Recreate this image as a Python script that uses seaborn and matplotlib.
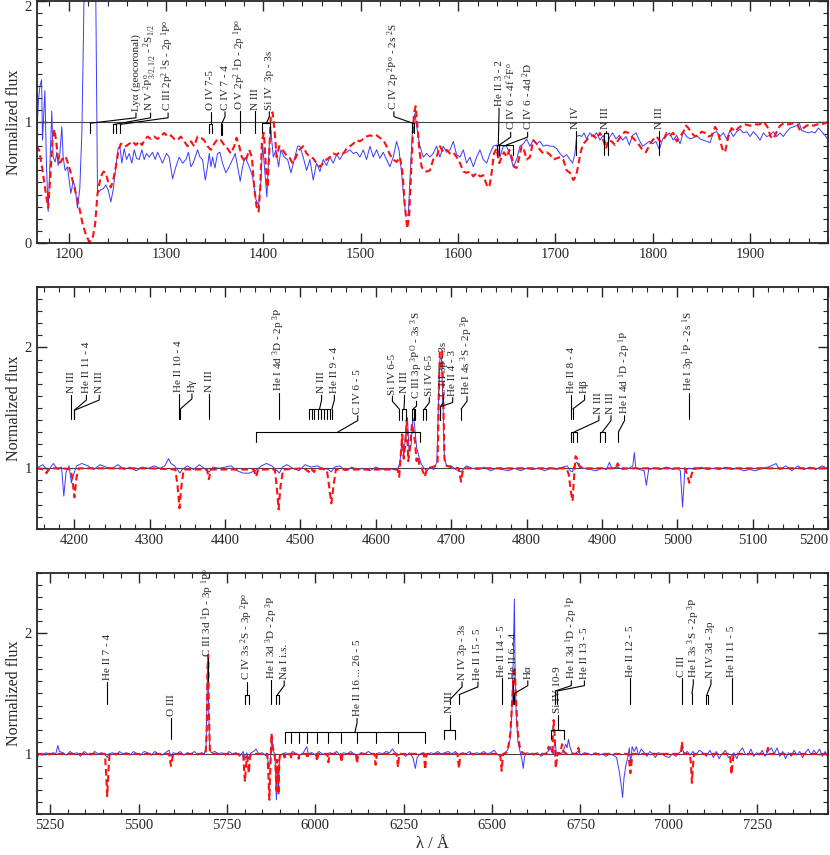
import numpy as np
import pandas as pd
import matplotlib
matplotlib.use("Agg")
import matplotlib.pyplot as plt
import seaborn as sns
from matplotlib.ticker import MultipleLocator

# ---------------- data: UV panel (wavelength, normalized flux) ----------------
uv_obs = [
    (1166.1, 0.71), (1168.8, 1.18), (1170.2, 1.29), (1172.0, 1.35), (1173.0, 0.85), (1175.4, 1.26),
    (1177.1, 0.63), (1178.8, 0.26), (1180.8, 0.69), (1182.5, 1.09), (1183.9, 0.71), (1186.0, 0.67),
    (1187.7, 0.75), (1189.1, 0.64), (1190.8, 0.74), (1192.8, 0.96), (1194.2, 0.71), (1196.2, 0.60),
    (1198.6, 0.63), (1202.1, 0.41), (1204.5, 0.51), (1206.5, 0.46), (1208.9, 0.29), (1211.3, 0.45),
    (1213.4, 0.91), (1215.1, 1.73), (1216.5, 2.60), (1227.1, 2.60), (1229.5, 0.41), (1232.9, 0.44),
    (1235.6, 0.45), (1238.0, 0.48), (1240.4, 0.44), (1243.2, 0.34), (1245.6, 0.44), (1248.3, 0.63),
    (1250.7, 0.78), (1252.4, 0.80), (1254.5, 0.66), (1256.9, 0.78), (1259.3, 0.69), (1262.0, 0.74),
    (1264.8, 0.66), (1267.2, 0.77), (1269.6, 0.70), (1272.3, 0.69), (1275.1, 0.77), (1277.5, 0.69),
    (1279.8, 0.74), (1282.6, 0.71), (1286.0, 0.75), (1288.8, 0.69), (1291.2, 0.75), (1293.5, 0.71),
    (1296.3, 0.66), (1300.4, 0.74), (1303.1, 0.71), (1306.6, 0.53), (1310.0, 0.63), (1313.4, 0.71),
    (1316.9, 0.66), (1320.3, 0.69), (1323.0, 0.75), (1325.4, 0.63), (1327.8, 0.66), (1329.9, 0.71),
    (1332.3, 0.77), (1334.7, 0.71), (1337.4, 0.69), (1340.2, 0.52), (1342.5, 0.63), (1344.3, 0.74),
    (1346.0, 0.63), (1347.7, 0.71), (1350.1, 0.62), (1352.8, 0.74), (1355.2, 0.75), (1357.9, 0.66),
    (1361.4, 0.58), (1364.8, 0.63), (1368.2, 0.69), (1371.0, 0.74), (1373.4, 0.63), (1376.1, 0.51),
    (1378.5, 0.63), (1381.2, 0.71), (1385.4, 0.63), (1388.8, 0.55), (1392.2, 0.36), (1395.0, 0.31),
    (1397.4, 0.52), (1399.1, 0.82), (1401.5, 0.58), (1403.5, 0.38), (1405.9, 0.80), (1407.6, 0.93),
    (1410.1, 0.71), (1412.8, 0.77), (1415.5, 0.63), (1417.9, 0.77), (1421.3, 0.71), (1424.8, 0.69),
    (1428.2, 0.58), (1431.6, 0.69), (1435.1, 0.80), (1437.4, 0.80), (1440.8, 0.71), (1444.3, 0.60),
    (1447.7, 0.69), (1451.1, 0.52), (1454.5, 0.66), (1458.0, 0.59), (1461.4, 0.69), (1464.8, 0.64),
    (1468.2, 0.71), (1471.7, 0.66), (1475.1, 0.73), (1478.5, 0.69), (1482.0, 0.74), (1485.4, 0.75),
    (1488.8, 0.77), (1492.2, 0.74), (1495.7, 0.75), (1499.1, 0.71), (1502.5, 0.77), (1505.9, 0.69),
    (1509.4, 0.80), (1512.8, 0.71), (1516.2, 0.77), (1519.6, 0.70), (1523.0, 0.75), (1526.5, 0.69),
    (1529.9, 0.63), (1533.3, 0.71), (1536.8, 0.84), (1539.2, 0.77), (1541.9, 0.58), (1544.3, 0.36),
    (1546.4, 0.22), (1548.8, 0.24), (1551.2, 0.63), (1553.2, 0.96), (1555.6, 1.07), (1558.0, 0.93),
    (1560.7, 0.80), (1564.2, 0.71), (1567.6, 0.74), (1571.0, 0.71), (1574.4, 0.74), (1577.9, 0.80),
    (1581.3, 0.71), (1584.7, 0.80), (1588.1, 0.75), (1591.6, 0.77), (1595.0, 0.84), (1598.4, 0.73),
    (1601.9, 0.71), (1605.3, 0.77), (1608.7, 0.66), (1612.1, 0.71), (1615.6, 0.63), (1619.0, 0.71),
    (1622.4, 0.77), (1625.8, 0.69), (1629.3, 0.66), (1632.7, 0.74), (1636.1, 0.80), (1639.5, 0.81),
    (1643.0, 0.71), (1646.4, 0.80), (1649.8, 0.80), (1653.2, 0.73), (1656.7, 0.63), (1660.1, 0.69),
    (1663.5, 0.80), (1667.0, 0.82), (1670.4, 0.86), (1673.8, 0.80), (1677.2, 0.85), (1680.7, 0.82),
    (1684.1, 0.84), (1687.5, 0.80), (1690.9, 0.81), (1694.4, 0.80), (1697.8, 0.80), (1701.2, 0.78),
    (1704.6, 0.74), (1708.0, 0.71), (1711.5, 0.73), (1714.9, 0.69), (1717.6, 0.66), (1720.0, 0.74),
    (1721.7, 0.88), (1724.5, 0.89), (1726.9, 0.88), (1729.3, 0.91), (1732.0, 0.86), (1735.4, 0.91),
    (1738.9, 0.88), (1742.3, 0.91), (1745.7, 0.85), (1749.1, 0.89), (1752.6, 0.80), (1756.0, 0.88),
    (1758.7, 0.91), (1762.2, 0.86), (1765.6, 0.89), (1769.0, 0.85), (1772.4, 0.88), (1775.9, 0.81),
    (1779.3, 0.89), (1782.7, 0.91), (1786.1, 0.85), (1789.6, 0.80), (1793.0, 0.82), (1796.4, 0.84),
    (1799.8, 0.82), (1803.3, 0.84), (1806.7, 0.77), (1810.1, 0.86), (1813.5, 0.88), (1817.0, 0.91),
    (1821.1, 0.85), (1824.5, 0.89), (1828.0, 0.82), (1831.4, 0.92), (1834.8, 0.88), (1838.2, 0.86),
    (1841.6, 0.87), (1845.1, 0.89), (1848.5, 0.86), (1851.9, 0.85), (1855.3, 0.84), (1858.8, 0.83),
    (1862.2, 0.91), (1865.6, 0.92), (1869.0, 0.88), (1872.5, 0.91), (1875.9, 0.86), (1879.3, 0.93),
    (1882.8, 0.88), (1886.2, 0.92), (1889.6, 0.94), (1893.0, 0.91), (1896.5, 0.92), (1899.9, 0.88),
    (1903.3, 0.92), (1906.7, 0.89), (1910.2, 0.85), (1913.6, 0.91), (1917.0, 0.88), (1920.4, 0.89),
    (1923.9, 0.92), (1927.3, 0.88), (1930.7, 0.91), (1934.1, 0.88), (1937.6, 0.92), (1941.0, 0.95),
    (1944.4, 0.96), (1947.9, 0.97), (1950.6, 0.99), (1953.0, 0.93), (1956.4, 0.92), (1959.8, 0.91),
    (1963.3, 0.92), (1966.7, 0.91), (1970.1, 0.95), (1973.5, 0.92), (1976.9, 0.89), (1980.4, 0.85),
]

uv_model = [
    (1166.1, 0.80), (1169.5, 0.77), (1173.0, 0.60), (1176.4, 0.41), (1178.8, 0.29), (1180.8, 0.52),
    (1183.2, 0.85), (1185.3, 0.94), (1187.3, 0.82), (1189.4, 0.66), (1191.8, 0.67), (1194.2, 0.71),
    (1196.9, 0.71), (1200.4, 0.63), (1203.8, 0.52), (1207.2, 0.41), (1210.6, 0.30), (1214.1, 0.16),
    (1217.5, 0.07), (1220.9, 0.01), (1224.3, 0.03), (1227.1, 0.16), (1229.5, 0.41), (1232.9, 0.55),
    (1235.6, 0.59), (1238.0, 0.58), (1240.8, 0.49), (1243.2, 0.46), (1245.6, 0.52), (1248.3, 0.63),
    (1251.1, 0.77), (1253.5, 0.82), (1255.9, 0.82), (1258.6, 0.80), (1262.0, 0.82), (1265.5, 0.84),
    (1268.9, 0.81), (1272.3, 0.84), (1275.1, 0.81), (1277.8, 0.85), (1280.9, 0.88), (1284.3, 0.86),
    (1287.7, 0.88), (1291.2, 0.86), (1294.6, 0.88), (1298.0, 0.91), (1301.4, 0.88), (1304.9, 0.89),
    (1308.3, 0.86), (1311.7, 0.85), (1315.1, 0.88), (1318.6, 0.84), (1322.0, 0.80), (1325.4, 0.84),
    (1328.8, 0.80), (1332.3, 0.88), (1335.7, 0.87), (1339.1, 0.85), (1342.5, 0.80), (1346.0, 0.77),
    (1349.4, 0.82), (1352.8, 0.86), (1356.2, 0.85), (1359.7, 0.81), (1363.1, 0.78), (1366.5, 0.74),
    (1369.9, 0.80), (1372.3, 0.87), (1375.1, 0.80), (1377.8, 0.71), (1381.3, 0.67), (1385.4, 0.77),
    (1388.1, 0.71), (1390.5, 0.46), (1392.9, 0.30), (1395.0, 0.26), (1396.7, 0.46), (1398.4, 0.85),
    (1400.4, 0.91), (1402.5, 0.63), (1404.2, 0.46), (1405.9, 0.74), (1407.6, 1.07), (1409.4, 1.08),
    (1411.4, 0.93), (1413.5, 0.71), (1416.2, 0.80), (1419.6, 0.77), (1423.1, 0.73), (1426.5, 0.71),
    (1429.9, 0.66), (1433.3, 0.71), (1436.8, 0.77), (1440.8, 0.80), (1444.3, 0.74), (1447.7, 0.71),
    (1451.1, 0.70), (1454.5, 0.66), (1458.0, 0.63), (1461.4, 0.66), (1464.8, 0.69), (1468.2, 0.71),
    (1471.7, 0.74), (1475.1, 0.73), (1478.5, 0.75), (1482.0, 0.74), (1485.4, 0.78), (1488.8, 0.80),
    (1492.2, 0.82), (1495.7, 0.85), (1499.1, 0.84), (1502.5, 0.86), (1505.9, 0.88), (1509.4, 0.89),
    (1512.8, 0.88), (1516.2, 0.89), (1519.6, 0.87), (1523.0, 0.85), (1526.5, 0.80), (1529.9, 0.73),
    (1533.3, 0.69), (1536.8, 0.67), (1540.2, 0.71), (1542.9, 0.58), (1545.3, 0.30), (1547.7, 0.12),
    (1549.8, 0.24), (1552.2, 0.69), (1554.6, 1.07), (1556.3, 1.13), (1558.0, 0.99), (1560.1, 0.77),
    (1562.4, 0.63), (1564.8, 0.60), (1567.6, 0.59), (1571.0, 0.60), (1574.4, 0.69), (1577.9, 0.71),
    (1581.3, 0.80), (1584.7, 0.75), (1588.1, 0.77), (1591.6, 0.74), (1595.0, 0.75), (1598.4, 0.71),
    (1601.9, 0.66), (1605.3, 0.59), (1608.7, 0.58), (1612.1, 0.59), (1615.6, 0.55), (1619.0, 0.58),
    (1622.4, 0.55), (1625.8, 0.56), (1629.3, 0.48), (1632.0, 0.46), (1634.4, 0.58), (1636.8, 0.74),
    (1639.5, 0.78), (1642.3, 0.66), (1644.7, 0.71), (1647.1, 0.75), (1649.8, 0.71), (1652.6, 0.77),
    (1655.0, 0.71), (1657.4, 0.63), (1660.1, 0.62), (1662.8, 0.71), (1665.2, 0.80), (1667.6, 0.77),
    (1670.4, 0.69), (1673.8, 0.71), (1677.2, 0.85), (1680.7, 0.82), (1684.1, 0.77), (1687.5, 0.74),
    (1690.9, 0.75), (1694.4, 0.73), (1697.8, 0.69), (1701.2, 0.70), (1704.6, 0.71), (1708.0, 0.69),
    (1711.5, 0.60), (1714.9, 0.58), (1718.3, 0.52), (1721.0, 0.55), (1723.4, 0.64), (1725.8, 0.75),
    (1728.6, 0.82), (1732.0, 0.85), (1735.4, 0.88), (1738.9, 0.89), (1742.3, 0.86), (1745.7, 0.91),
    (1749.1, 0.85), (1751.9, 0.78), (1754.3, 0.85), (1757.7, 0.84), (1761.1, 0.81), (1764.6, 0.85),
    (1768.0, 0.89), (1771.4, 0.92), (1774.8, 0.91), (1778.3, 0.88), (1781.7, 0.85), (1785.1, 0.82),
    (1788.5, 0.78), (1793.0, 0.75), (1796.4, 0.81), (1799.8, 0.85), (1803.9, 0.88), (1807.4, 0.84),
    (1810.8, 0.85), (1814.2, 0.91), (1817.7, 0.89), (1821.1, 0.91), (1824.5, 0.84), (1828.0, 0.88),
    (1831.4, 0.92), (1834.1, 0.97), (1836.5, 0.95), (1839.9, 0.91), (1843.4, 0.88), (1846.8, 0.89),
    (1850.2, 0.92), (1853.6, 0.91), (1857.1, 0.88), (1860.5, 0.89), (1863.9, 0.96), (1866.3, 0.93),
    (1869.0, 0.85), (1871.4, 0.78), (1874.2, 0.75), (1877.6, 0.88), (1881.0, 0.95), (1884.5, 0.92),
    (1887.9, 0.95), (1891.3, 0.97), (1894.7, 0.98), (1899.9, 0.97), (1905.0, 0.98), (1909.5, 0.98),
    (1914.3, 1.00), (1917.7, 0.96), (1921.1, 0.88), (1923.9, 0.86), (1927.3, 0.92), (1930.7, 0.97),
    (1934.8, 0.99), (1939.3, 0.98), (1944.4, 0.99), (1948.5, 0.98), (1951.3, 0.93), (1954.7, 0.95),
    (1958.1, 0.97), (1961.6, 0.98), (1965.0, 0.97), (1969.1, 0.98), (1973.5, 0.98), (1977.0, 0.99),
    (1980.4, 1.00),
]

# ---------------- data: blue optical panel ----------------
blue_obs = [
    (4150, 1.00), (4158, 1.03), (4165, 0.98), (4172, 1.04), (4178, 0.99), (4183, 1.01), (4186, 0.77),
    (4189, 0.97), (4193, 1.02), (4196, 0.88), (4199, 0.95), (4203, 1.02), (4210, 1.04), (4218, 1.02),
    (4226, 0.99), (4234, 1.03), (4242, 1.01), (4250, 1.00), (4258, 1.03), (4266, 0.99), (4274, 1.01),
    (4282, 0.98), (4290, 1.01), (4298, 1.00), (4306, 1.02), (4314, 1.00), (4320, 1.02), (4325, 1.08),
    (4328, 1.04), (4333, 1.02), (4338, 0.98), (4340, 0.96), (4343, 0.99), (4350, 1.02), (4358, 0.99),
    (4366, 1.03), (4374, 0.99), (4379, 0.97), (4384, 1.01), (4392, 1.00), (4400, 1.01), (4408, 1.02),
    (4416, 0.98), (4424, 0.96), (4432, 0.96), (4440, 0.98), (4448, 1.02), (4455, 1.04), (4462, 1.02),
    (4469, 0.98), (4472, 0.96), (4476, 1.01), (4482, 1.03), (4490, 1.00), (4498, 0.98), (4506, 1.03),
    (4514, 1.01), (4522, 1.02), (4530, 1.00), (4537, 0.99), (4541, 0.97), (4545, 1.01), (4552, 1.02),
    (4560, 0.98), (4568, 1.01), (4576, 0.99), (4584, 1.00), (4592, 0.98), (4600, 1.01), (4608, 0.99),
    (4616, 1.00), (4624, 0.99), (4629, 0.99), (4632, 1.05), (4635, 1.25), (4637, 1.10), (4640, 1.30),
    (4642, 1.42), (4644, 1.15), (4647, 1.20), (4649, 1.42), (4651, 1.38), (4654, 1.18), (4657, 1.10),
    (4660, 1.04), (4664, 1.00), (4668, 0.98), (4672, 1.01), (4677, 0.99), (4681, 1.05), (4683, 1.50),
    (4685, 1.90), (4687, 1.92), (4689, 1.55), (4691, 1.08), (4694, 1.02), (4700, 1.02), (4706, 0.99),
    (4713, 0.97), (4720, 1.02), (4728, 1.00), (4736, 0.99), (4744, 1.01), (4752, 0.98), (4760, 1.00),
    (4768, 0.99), (4776, 0.98), (4784, 1.00), (4792, 0.98), (4800, 1.00), (4808, 0.99), (4816, 1.00),
    (4824, 0.98), (4832, 1.00), (4840, 0.99), (4848, 1.01), (4854, 1.02), (4858, 0.98), (4861, 0.97),
    (4864, 1.04), (4867, 1.05), (4870, 1.01), (4876, 1.00), (4884, 0.99), (4892, 0.98), (4900, 1.00),
    (4906, 0.99), (4910, 1.05), (4913, 1.00), (4920, 1.01), (4928, 0.99), (4936, 1.00), (4941, 1.02),
    (4943, 1.13), (4945, 1.00), (4950, 0.99), (4956, 0.98), (4959, 0.86), (4962, 0.99), (4970, 1.00),
    (4978, 0.99), (4986, 1.01), (4994, 0.99), (5000, 1.00), (5004, 0.98), (5007, 0.68), (5010, 0.98),
    (5016, 1.00), (5024, 0.99), (5032, 1.01), (5040, 0.99), (5048, 1.00), (5056, 0.99), (5064, 1.01),
    (5072, 0.99), (5080, 1.00), (5088, 0.98), (5096, 0.99), (5104, 0.98), (5112, 1.00), (5120, 1.01),
    (5128, 1.03), (5131, 1.04), (5136, 0.99), (5144, 1.02), (5152, 0.98), (5160, 1.02), (5168, 0.99),
    (5176, 1.01), (5184, 0.99), (5192, 1.02), (5200, 1.00),
]

blue_model = [
    (4150, 1.00), (4160, 0.99), (4163, 0.96), (4166, 0.99), (4172, 1.00), (4185, 1.00), (4195, 0.99),
    (4197, 0.93), (4200, 0.76), (4203, 0.93), (4206, 1.00), (4300, 1.00), (4334, 0.99), (4337, 0.85),
    (4339.5, 0.67), (4342, 0.85), (4345, 0.99), (4376, 0.99), (4378.5, 0.91), (4381, 0.99),
    (4438, 0.99), (4441, 0.93), (4444, 0.99), (4466, 0.99), (4468.5, 0.85), (4471, 0.66),
    (4473.5, 0.85), (4477, 0.99), (4505, 1.00), (4511, 0.97), (4514, 1.00), (4518, 0.97),
    (4521, 1.00), (4535, 0.99), (4538, 0.85), (4541, 0.71), (4544, 0.86), (4547, 0.99), (4629, 0.99),
    (4631, 0.93), (4633, 1.10), (4635, 1.28), (4637, 1.08), (4639, 1.20), (4641, 1.40), (4643, 1.06),
    (4645, 1.15), (4648, 1.37), (4650, 1.30), (4652, 1.22), (4654, 1.06), (4656, 1.10), (4658, 1.02),
    (4661, 1.00), (4665, 0.93), (4668, 1.00), (4675, 1.01), (4679, 1.02), (4682, 1.05),
    (4683.5, 1.60), (4685, 1.98), (4688, 1.97), (4689.5, 1.60), (4691, 1.08), (4694, 1.02),
    (4700, 1.01), (4710, 1.00), (4713, 0.89), (4716, 1.00), (4853, 1.00), (4856, 0.95), (4859, 0.80),
    (4861, 0.73), (4863, 0.92), (4865, 1.10), (4867, 1.08), (4870, 1.02), (4875, 1.00), (4918, 1.00),
    (4921, 1.04), (4924, 1.00), (5010, 1.00), (5013, 0.95), (5016, 0.88), (5019, 0.95), (5022, 1.00),
    (5200, 1.00),
]

# ---------------- data: red optical panel ----------------
red_obs = [
    (5212, 0.95), (5218, 1.00), (5228, 0.99), (5238, 1.01), (5248, 0.99), (5258, 1.01), (5266, 1.00),
    (5272, 1.07), (5276, 1.02), (5286, 1.01), (5296, 0.99), (5306, 1.02), (5316, 1.00), (5326, 1.01),
    (5336, 0.98), (5346, 1.02), (5356, 1.00), (5366, 0.99), (5376, 1.02), (5386, 1.00), (5396, 1.01),
    (5406, 0.99), (5411, 0.97), (5416, 1.00), (5426, 1.01), (5436, 0.99), (5446, 1.02), (5456, 1.00),
    (5466, 1.01), (5476, 0.99), (5486, 1.02), (5496, 1.00), (5506, 0.99), (5516, 1.02), (5526, 1.01),
    (5536, 0.99), (5546, 1.02), (5556, 1.00), (5566, 0.99), (5576, 1.01), (5586, 1.03), (5592, 0.98),
    (5598, 1.01), (5608, 1.00), (5618, 1.02), (5628, 0.99), (5638, 1.01), (5648, 1.00), (5658, 1.02),
    (5668, 0.99), (5678, 1.01), (5686, 1.00), (5691, 1.05), (5694, 1.50), (5696, 1.80), (5698, 1.45),
    (5701, 1.05), (5706, 1.01), (5716, 1.02), (5726, 1.00), (5736, 1.01), (5746, 0.99), (5756, 1.02),
    (5766, 1.00), (5776, 1.01), (5786, 0.98), (5796, 1.02), (5801, 0.95), (5806, 1.01), (5812, 0.96),
    (5818, 1.01), (5826, 1.02), (5832, 1.04), (5840, 1.00), (5850, 1.01), (5858, 0.99), (5864, 0.98),
    (5869, 0.88), (5873, 0.95), (5877, 1.15), (5881, 1.02), (5886, 1.00), (5890, 0.62), (5893, 0.90),
    (5896, 0.70), (5899, 0.98), (5906, 1.00), (5916, 1.01), (5926, 0.99), (5936, 1.02), (5946, 1.00),
    (5956, 0.99), (5966, 1.01), (5976, 1.06), (5980, 1.00), (5990, 1.01), (6000, 0.99), (6010, 1.02),
    (6020, 1.00), (6030, 0.99), (6040, 1.01), (6050, 1.00), (6060, 1.02), (6070, 0.99), (6080, 1.01),
    (6090, 1.00), (6100, 1.02), (6110, 1.00), (6120, 0.99), (6130, 1.01), (6140, 1.00), (6150, 1.02),
    (6160, 1.00), (6170, 0.99), (6180, 1.01), (6190, 1.00), (6200, 1.02), (6210, 1.01), (6218, 1.04),
    (6226, 1.01), (6236, 0.99), (6246, 1.00), (6256, 0.98), (6266, 1.01), (6276, 0.97), (6283, 0.88),
    (6288, 0.97), (6296, 1.00), (6306, 1.01), (6316, 0.99), (6326, 1.01), (6336, 1.00), (6346, 1.02),
    (6356, 1.00), (6366, 1.01), (6376, 1.02), (6386, 1.00), (6396, 1.02), (6406, 0.99), (6416, 1.01),
    (6426, 1.00), (6436, 1.02), (6446, 0.99), (6456, 1.01), (6466, 1.00), (6476, 1.02), (6486, 1.00),
    (6496, 1.01), (6506, 1.03), (6514, 1.00), (6522, 0.98), (6530, 0.99), (6538, 1.01), (6545, 1.04),
    (6551, 1.12), (6556, 1.35), (6560, 1.80), (6563, 2.28), (6565, 1.70), (6568, 1.35), (6573, 1.10),
    (6579, 1.02), (6584, 0.96), (6588, 0.88), (6592, 0.98), (6598, 1.01), (6608, 1.00), (6618, 0.99),
    (6628, 1.01), (6638, 0.98), (6648, 1.00), (6658, 1.02), (6664, 1.06), (6668, 1.02), (6673, 1.00),
    (6678, 1.12), (6681, 1.02), (6684, 0.98), (6690, 1.01), (6696, 1.00), (6702, 1.03), (6708, 1.08),
    (6712, 1.05), (6716, 1.12), (6720, 1.06), (6726, 1.01), (6734, 1.00), (6742, 1.02), (6752, 0.99),
    (6762, 1.01), (6772, 1.00), (6782, 0.99), (6792, 1.01), (6802, 0.99), (6812, 1.00), (6822, 0.98),
    (6832, 1.00), (6842, 0.99), (6852, 0.97), (6860, 0.85), (6866, 0.72), (6869, 0.64), (6873, 0.80),
    (6878, 0.90), (6883, 0.96), (6888, 1.05), (6892, 0.92), (6896, 1.06), (6902, 1.02), (6908, 1.06),
    (6914, 0.99), (6922, 1.04), (6930, 1.01), (6938, 0.98), (6946, 1.02), (6954, 1.00), (6962, 0.97),
    (6970, 1.01), (6980, 1.00), (6990, 0.98), (7000, 0.97), (7010, 1.00), (7020, 0.98), (7030, 1.01),
    (7038, 1.04), (7044, 1.00), (7052, 1.02), (7060, 0.99), (7068, 1.02), (7076, 0.99), (7086, 1.03),
    (7096, 1.01), (7106, 0.98), (7116, 1.03), (7126, 0.97), (7134, 1.02), (7142, 0.96), (7150, 1.00),
    (7160, 1.03), (7168, 0.97), (7176, 0.98), (7184, 1.01), (7192, 0.96), (7200, 1.02), (7208, 1.05),
    (7216, 1.00), (7224, 0.99), (7232, 1.04), (7240, 0.98), (7248, 1.01), (7256, 0.99), (7264, 1.03),
    (7272, 0.98), (7280, 1.02), (7290, 1.05), (7298, 1.00), (7306, 1.05), (7314, 0.98), (7322, 1.02),
    (7330, 0.96), (7338, 1.01), (7346, 0.98), (7354, 1.03), (7362, 0.99), (7370, 1.02), (7378, 0.97),
    (7386, 1.01), (7394, 1.04), (7402, 0.99), (7410, 1.03), (7418, 1.00), (7426, 1.04), (7434, 0.98),
    (7442, 1.02), (7450, 0.97),
]

red_model = [
    (5212, 1.00), (5405, 1.00), (5408, 0.85), (5411.5, 0.65), (5415, 0.86), (5418, 1.00),
    (5586, 1.00), (5589, 0.95), (5592, 0.90), (5595, 0.95), (5598, 1.00), (5690, 1.00),
    (5693, 1.20), (5695, 1.70), (5697, 1.82), (5699, 1.35), (5702, 1.02), (5706, 1.00),
    (5796, 1.00), (5799, 0.85), (5801, 0.77), (5804, 0.90), (5807, 0.98), (5810, 0.90),
    (5812, 0.84), (5815, 0.97), (5818, 1.00), (5864, 1.00), (5867, 0.85), (5870, 0.62),
    (5873, 0.90), (5876, 1.17), (5880, 1.05), (5884, 1.00), (5887, 0.95), (5890, 0.70),
    (5892, 0.95), (5894, 0.90), (5896, 0.66), (5898, 0.95), (5901, 1.00), (5911, 1.00),
    (5913, 0.97), (5915, 1.00), (5930, 1.00), (5932, 0.96), (5934, 1.00), (5951, 1.00),
    (5953, 0.96), (5955, 1.00), (5975, 1.00), (5977.5, 0.96), (5980, 1.00), (6002, 1.00),
    (6005, 0.94), (6008, 1.00), (6034, 1.00), (6037, 0.93), (6040, 1.00), (6071, 1.00),
    (6074, 0.93), (6077, 1.00), (6115, 1.00), (6118, 0.92), (6121, 1.00), (6167, 1.00),
    (6170.6, 0.91), (6174, 1.00), (6230, 1.00), (6233.8, 0.89), (6237, 1.00), (6307, 1.00),
    (6310.8, 0.87), (6314, 1.00), (6402, 1.00), (6406.4, 0.88), (6410, 1.00), (6523, 1.00),
    (6527, 0.86), (6531, 1.00), (6540, 1.01), (6546, 1.06), (6552, 1.18), (6557, 1.45),
    (6561, 1.68), (6564, 1.72), (6567, 1.48), (6572, 1.20), (6578, 1.06), (6585, 1.01),
    (6592, 1.00), (6655, 1.00), (6660, 1.06), (6664, 1.01), (6670, 1.02), (6674, 1.28),
    (6677, 1.15), (6680, 0.88), (6683, 0.95), (6686, 1.01), (6692, 1.00), (6698, 1.08),
    (6702, 1.02), (6710, 1.00), (6740, 1.00), (6744, 1.05), (6748, 1.00), (6886, 1.00),
    (6889, 0.90), (6891, 0.84), (6894, 0.92), (6897, 1.00), (7034, 1.00), (7037, 1.10),
    (7040, 1.02), (7044, 1.00), (7060, 1.00), (7063, 0.88), (7065, 0.76), (7068, 0.90),
    (7071, 1.00), (7173, 1.00), (7175, 0.90), (7177, 0.83), (7180, 0.92), (7183, 1.00),
    (7276, 1.00), (7280, 1.05), (7284, 1.00), (7450, 1.00),
]

# ---------------- line identifications: (wavelengths, label) ----------------
uv_ids = [
    ([1222.0], "Ly\u03b1 (geocoronal)"),
    ([1245.0, 1248.3], "N V $^{2}$P$^{o}_{3/2,1/2}$ - $^{2}$S$_{1/2}$"),
    ([1252.8], "C III 2p$^{2}$ $^{1}$S - 2p $^{1}$P$^{o}$"),
    ([1344.2, 1347.6], "O IV 7-5"),
    ([1356.2, 1357.3], "C IV 7 - 4"),
    ([1375.8], "O V 2p$^{2}$ $^{1}$D - 2p $^{1}$P$^{o}$"),
    ([1391.5], "N III"),
    ([1399.0, 1407.0], "Si IV  3p - 3s"),
    ([1552.2, 1554.6], "C IV 2p $^{2}$P$^{o}$ - 2s $^{2}$S"),
    ([1640.2, 1642.3], "He II 3 - 2"),
    ([1642.3], "C IV 6 - 4f $^{2}$F$^{o}$"),
    ([1642.3, 1656.7], "C IV 6 - 4d $^{2}$D"),
    ([1721.0], "N IV"),
    ([1750.2, 1753.6], "N III"),
    ([1806.7], "N III"),
]

blue_ids = [
    ([4195.8], "N III"),
    ([4199.8], "He II 11 - 4"),
    ([4200.1], "N III"),
    ([4338.7], "He II 10 - 4"),
    ([4340.5], "H\u03b3"),
    ([4379.1], "N III"),
    ([4471.5], "He I 4d $^{3}$D - 2p $^{3}$P"),
    ([4510.9, 4514.9, 4518.1, 4523.6, 4527.9, 4530.9, 4534.6, 4539.7], "N III"),
    ([4541.6], "He II 9 - 4"),
    ([4441.0, 4658.0], "C IV 6 - 5"),
    ([4631.2], "Si IV 6-5"),
    ([4634.1, 4640.6], "N III"),
    ([4647.4, 4650.2, 4651.5], "C III 3p $^{3}$P$^{O}$ - 3s $^{3}$S"),
    ([4663.0, 4666.0], "Si IV 6-5"),
    ([4685.7], "C III 3p - 3s"),
    ([4685.7], "He II 4 - 3"),
    ([4713.1], "He I 4s $^{3}$S - 2p $^{3}$P"),
    ([4859.3], "He II 8 - 4"),
    ([4861.3], "H\u03b2"),
    ([4858.9, 4861.6, 4867.1], "N III"),
    ([4897.0, 4904.0], "N III"),
    ([4921.9], "He I 4d $^{1}$D - 2p $^{1}$P"),
    ([5015.7], "He I 3p $^{1}$P - 2s $^{1}$S"),
]

red_ids = [
    ([5411.5], "He II 7 - 4"),
    ([5592.3], "O III"),
    ([5695.9], "C III 3d $^{1}$D - 3p $^{1}$P$^{o}$"),
    ([5801.3, 5812.0], "C IV 3s $^{2}$S - 3p $^{2}$P$^{o}$"),
    ([5875.6], "He I 3d $^{3}$D - 2p $^{3}$P"),
    ([5890.0, 5895.9], "Na I i.s."),
    ([5913.0, 5932.0, 5953.0, 5977.5, 6005.0, 6037.0, 6074.0, 6118.0, 6170.6, 6233.8, 6310.8],
     "He II 16 ... 26 - 5"),
    ([6365.0, 6395.0], "N III"),
    ([6380.8], "N IV 3p - 3s"),
    ([6406.4], "He II 15 - 5"),
    ([6527.1], "He II 14 - 5"),
    ([6560.1], "He II 6 - 4"),
    ([6562.8], "H\u03b1"),
    ([6667.0, 6703.0], "Si IV 10-9"),
    ([6678.2], "He I 3d $^{1}$D - 2p $^{1}$P"),
    ([6683.2], "He II 13 - 5"),
    ([6890.9], "He II 12 - 5"),
    ([7037.0], "C III"),
    ([7065.2], "He I 3s $^{3}$S - 2p $^{3}$P"),
    ([7105.0, 7110.0], "N IV 3d - 3p"),
    ([7177.2], "He II 11 - 5"),
]

# ---------------- label layout: (tick bottom, tick top, text x, text bottom) ----------------
uv_layout = [
    (0.91, 0.99, 1269.0, 1.09), (0.91, 0.98, 1284.0, 1.09), (0.91, 0.98, 1302.0, 1.09),
    (0.91, 0.98, 1346.0, 1.10), (0.89, 0.98, 1360.5, 1.10), (0.91, 1.09, 1375.8, 1.10),
    (0.91, 1.09, 1391.5, 1.10), (0.91, 0.99, 1406.0, 1.10), (0.91, 0.99, 1534.0, 1.10),
    (0.73, 0.81, 1642.0, 1.13), (0.73, 0.81, 1654.0, 0.93), (0.73, 0.81, 1671.4, 0.93),
    (0.73, 0.91, 1721.0, 0.94), (0.73, 0.91, 1751.9, 0.94), (0.73, 0.91, 1806.7, 0.94),
]

blue_layout = [
    (1.41, 1.58, 4195.8, 1.62), (1.41, 1.48, 4216.0, 1.62), (1.41, 1.48, 4233.0, 1.62),
    (1.41, 1.49, 4338.7, 1.63), (1.41, 1.49, 4356.0, 1.63), (1.41, 1.61, 4379.1, 1.63),
    (1.41, 1.61, 4471.5, 1.64), (1.41, 1.49, 4528.0, 1.62), (1.41, 1.49, 4545.0, 1.62),
    (1.22, 1.30, 4576.0, 1.45), (1.40, 1.49, 4622.0, 1.61), (1.40, 1.49, 4638.0, 1.62),
    (1.40, 1.49, 4654.0, 1.57), (1.40, 1.49, 4671.0, 1.60), (1.40, 1.51, 4689.5, 1.60),
    (1.40, 1.51, 4702.0, 1.60), (1.40, 1.49, 4721.0, 1.61), (1.41, 1.49, 4859.3, 1.62),
    (1.41, 1.49, 4877.0, 1.62), (1.22, 1.30, 4896.0, 1.45), (1.22, 1.30, 4912.0, 1.45),
    (1.22, 1.30, 4930.0, 1.45), (1.41, 1.60, 5015.7, 1.64),
]

red_layout = [
    (1.41, 1.56, 5411.5, 1.61), (1.12, 1.29, 5592.3, 1.31), (1.60, 1.79, 5695.9, 1.80),
    (1.41, 1.49, 5806.6, 1.61), (1.41, 1.61, 5875.6, 1.62), (1.41, 1.49, 5912.0, 1.62),
    (1.09, 1.18, 6118.0, 1.31), (1.12, 1.20, 6380.0, 1.34), (1.41, 1.45, 6415.0, 1.61),
    (1.41, 1.49, 6460.0, 1.61), (1.41, 1.63, 6527.1, 1.64), (1.41, 1.50, 6560.1, 1.62),
    (1.41, 1.50, 6601.0, 1.62), (1.12, 1.20, 6685.0, 1.34), (1.41, 1.52, 6724.0, 1.62),
    (1.41, 1.52, 6761.0, 1.62), (1.41, 1.63, 6890.9, 1.64), (1.41, 1.63, 7037.0, 1.64),
    (1.41, 1.50, 7069.0, 1.63), (1.41, 1.49, 7119.0, 1.63), (1.41, 1.63, 7177.2, 1.64),
]

sns.set_style("ticks")
plt.rcParams["font.family"] = ["Liberation Serif", "DejaVu Serif"]
plt.rcParams["mathtext.fontset"] = "custom"
plt.rcParams["mathtext.rm"] = "Liberation Serif"
plt.rcParams["mathtext.it"] = "Liberation Serif:italic"
plt.rcParams["mathtext.default"] = "regular"

OBS_COLOR = "#3a3aff"
MODEL_COLOR = "#ff1010"
LABEL_SIZE = 8


def draw_spectrum(ax, pts, color, lw, dashed=False):
    df = pd.DataFrame(pts, columns=["wave", "flux"])
    sns.lineplot(data=df, x="wave", y="flux", ax=ax, color=color, linewidth=lw,
                 estimator=None, sort=False, legend=False, zorder=2 if dashed else 1.5)
    if dashed:
        ax.lines[-1].set_dashes([3.2, 1.8])


def mark_lines(ax, ids, layout):
    for (waves, text), (y0, y1, tx, ty) in zip(ids, layout):
        for w in waves:
            ax.plot([w, w], [y0, y1], color="black", lw=0.8, zorder=4)
        lo, hi = min(waves), max(waves)
        if hi > lo:
            ax.plot([lo, hi], [y1, y1], color="black", lw=0.8, zorder=4)
        c = 0.5 * (lo + hi)
        if abs(tx - c) < 0.6:
            ax.plot([c, c], [y1, ty - 0.015], color="black", lw=0.8, zorder=4)
        else:
            ax.plot([c, tx, tx], [y1, ty - 0.055, ty - 0.015], color="black", lw=0.8, zorder=4)
        ax.text(tx, ty, text, rotation=90, ha="center", va="bottom",
                fontsize=LABEL_SIZE, zorder=5)


def style_axes(ax, xlim, ylim, xmaj, xmin):
    ax.set_xlim(*xlim)
    ax.set_ylim(*ylim)
    ax.xaxis.set_major_locator(MultipleLocator(xmaj))
    ax.xaxis.set_minor_locator(MultipleLocator(xmin))
    ax.yaxis.set_major_locator(MultipleLocator(1))
    ax.yaxis.set_minor_locator(MultipleLocator(0.1))
    ax.tick_params(which="both", direction="in", top=True, right=True, labelsize=10.5)
    ax.tick_params(which="major", length=7, width=1.0)
    ax.tick_params(which="minor", length=3.5, width=0.8)
    for sp in ax.spines.values():
        sp.set_linewidth(1.3)
    ax.axhline(1.0, color="#444444", lw=0.8, zorder=1)
    ax.set_ylabel("Normalized flux", fontsize=11.5, labelpad=2)
    ax.set_xlabel("")


fig = plt.figure(figsize=(8.3, 8.55), dpi=100)
ax_uv = fig.add_axes([0.0442, 0.7158, 0.9534, 0.2830])
ax_bl = fig.add_axes([0.0442, 0.3816, 0.9534, 0.2827])
ax_rd = fig.add_axes([0.0442, 0.0476, 0.9534, 0.2826])

draw_spectrum(ax_uv, uv_obs, OBS_COLOR, 0.7)
draw_spectrum(ax_uv, uv_model, MODEL_COLOR, 1.5, dashed=True)
style_axes(ax_uv, (1167, 1980), (0, 2), 100, 20)
mark_lines(ax_uv, uv_ids, uv_layout)

draw_spectrum(ax_bl, blue_obs, OBS_COLOR, 0.7)
draw_spectrum(ax_bl, blue_model, MODEL_COLOR, 1.5, dashed=True)
style_axes(ax_bl, (4150, 5200), (0.5, 2.5), 100, 20)
mark_lines(ax_bl, blue_ids, blue_layout)

draw_spectrum(ax_rd, red_obs, OBS_COLOR, 0.7)
draw_spectrum(ax_rd, red_model, MODEL_COLOR, 1.5, dashed=True)
style_axes(ax_rd, (5212, 7450), (0.5, 2.5), 250, 50)
mark_lines(ax_rd, red_ids, red_layout)
ax_rd.set_xlabel("\u03bb / \u00c5", fontsize=12, labelpad=3)

fig.canvas.draw()
for lab in ax_bl.get_xticklabels():
    if lab.get_text() == "5200":
        lab.set_horizontalalignment("right")
for lab in ax_uv.get_yticklabels():
    if lab.get_text() == "2":
        lab.set_verticalalignment("top")

fig.savefig("out.png", dpi=100)
